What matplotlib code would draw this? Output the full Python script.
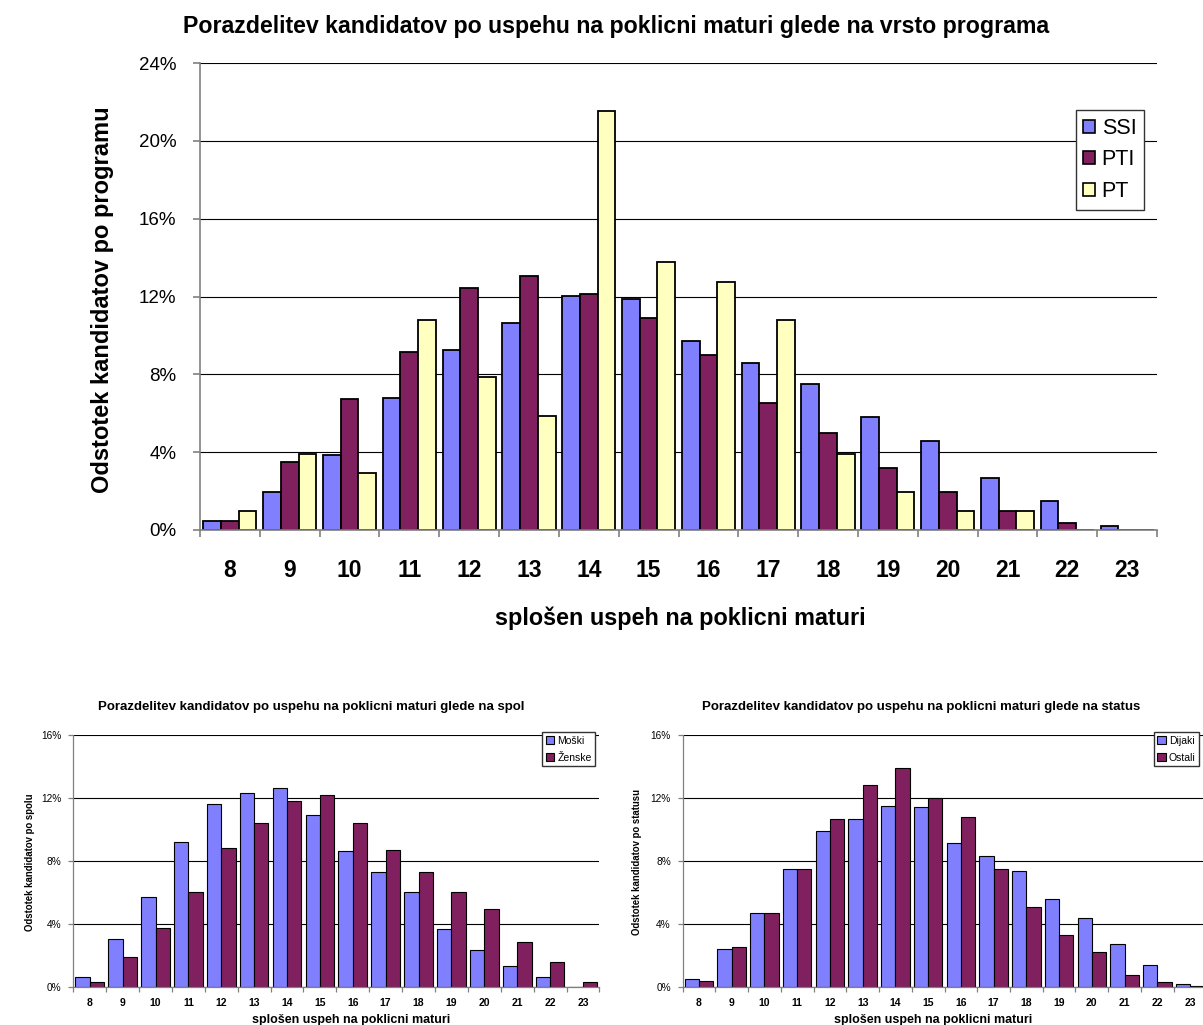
import numpy as np
import matplotlib
matplotlib.use("Agg")
import matplotlib.pyplot as plt
from matplotlib.ticker import FixedLocator, FuncFormatter

plt.rcParams['font.family'] = ['Liberation Sans', 'DejaVu Sans']

# --- data (percent) ---
grades = ['8', '9', '10', '11', '12', '13', '14', '15', '16', '17', '18', '19', '20', '21', '22', '23']

ssi = [0.48, 1.95, 3.83, 6.79, 9.25, 10.63, 12.03, 11.86, 9.73, 8.6, 7.52, 5.81, 4.58, 2.68, 1.47, 0.22]
pti = [0.48, 3.5, 6.72, 9.16, 12.45, 13.05, 12.12, 10.9, 8.99, 6.53, 4.99, 3.18, 1.95, 0.97, 0.38, 0.0]
pt = [0.97, 3.9, 2.94, 10.8, 7.85, 5.88, 21.55, 13.75, 12.77, 10.8, 3.93, 1.95, 0.97, 0.97, 0.0, 0.0]

moski = [0.63, 3.06, 5.74, 9.18, 11.62, 12.28, 12.6, 10.93, 8.65, 7.28, 6.05, 3.71, 2.38, 1.37, 0.63, 0.0]
zenske = [0.32, 1.9, 3.76, 6.01, 8.82, 10.4, 11.8, 12.15, 10.4, 8.71, 7.28, 6.05, 4.98, 2.87, 1.58, 0.32]

dijaki = [0.53, 2.41, 4.7, 7.47, 9.9, 10.69, 11.49, 11.43, 9.14, 8.3, 7.39, 5.61, 4.4, 2.73, 1.44, 0.21]
ostali = [0.38, 2.56, 4.7, 7.47, 10.69, 12.83, 13.9, 11.98, 10.8, 7.47, 5.08, 3.32, 2.24, 0.8, 0.32, 0.1]

BLUE = '#8080FF'
PURPLE = '#80205F'
YELLOW = '#FFFFC0'

W, H = 1203, 1025
fig = plt.figure(figsize=(W / 100, H / 100), dpi=100)


def px_axes(left, top, right, bottom):
    return fig.add_axes([left / W, 1 - bottom / H, (right - left) / W, (bottom - top) / H])


def pct(v, pos):
    return '%d%%' % round(v)


def style_axes(ax, ymax, ystep, tick_fs, xpad, ytick_fs, ypad, ticklen, lw):
    n = len(grades)
    ax.set_xlim(-0.5, n - 0.5)
    ax.set_ylim(0, ymax)
    ax.set_yticks(np.arange(0, ymax + 0.01, ystep))
    ax.yaxis.set_major_formatter(FuncFormatter(pct))
    ax.xaxis.set_major_locator(FixedLocator(np.arange(-0.5, n, 1.0)))
    ax.xaxis.set_minor_locator(FixedLocator(np.arange(n)))
    ax.set_xticklabels([], minor=False)
    ax.set_xticklabels(grades, minor=True, fontweight='bold', fontsize=tick_fs)
    ax.tick_params(axis='x', which='minor', length=0, pad=xpad)
    ax.tick_params(axis='x', which='major', length=ticklen, width=lw, color='#808080')
    ax.tick_params(axis='y', length=ticklen, width=lw, color='#808080',
                   labelsize=ytick_fs, pad=ypad)
    ax.grid(axis='y', color='black', lw=0.8)
    ax.set_axisbelow(True)
    for s in ['top', 'right']:
        ax.spines[s].set_visible(False)
    for s in ['left', 'bottom']:
        ax.spines[s].set_color('#808080')
        ax.spines[s].set_linewidth(lw)


# --- top chart ---
ax = px_axes(200, 63, 1157, 530)
x = np.arange(len(grades))
bw = 0.296
ax.bar(x - bw, ssi, bw, color=BLUE, edgecolor='black', lw=1.3, label='SSI')
ax.bar(x, pti, bw, color=PURPLE, edgecolor='black', lw=1.3, label='PTI')
ax.bar(x + bw, pt, bw, color=YELLOW, edgecolor='black', lw=1.3, label='PT')
style_axes(ax, 24, 4, 16.5, 21, 13.5, 12, 5, 1.2)
ax.text(-0.1015, 0.4925, 'Odstotek kandidatov po programu', transform=ax.transAxes,
        rotation=90, ha='center', va='center', fontsize=17, fontweight='bold')
ax.text(0.502, -0.188, 'splošen uspeh na poklicni maturi', transform=ax.transAxes,
        ha='center', va='center', fontsize=16.8, fontweight='bold')
fig.text(616 / W, 1 - 27 / H, 'Porazdelitev kandidatov po uspehu na poklicni maturi glede na vrsto programa',
         ha='center', va='center', fontsize=16.7, fontweight='bold')
leg = ax.legend(loc='upper right', bbox_to_anchor=(0.9864, 0.899), borderaxespad=0, fontsize=15.5,
                fancybox=False, edgecolor='#333333', framealpha=1, handlelength=0.55,
                handleheight=0.55, handletextpad=0.3, labelspacing=0.5, borderpad=0.35)
for h in leg.legend_handles:
    h.set_linewidth(1.2)

# --- bottom charts ---
bottom_sets = [
    ((73.3, 734.7, 599.4, 987.3), moski, zenske, 'Moški', 'Ženske',
     'Porazdelitev kandidatov po uspehu na poklicni maturi glede na spol', 0.453,
     'Odstotek kandidatov po spolu', -0.082, 0.529, (0.992, 1.01)),
    ((682.6, 734.7, 1206.4, 987.3), dijaki, ostali, 'Dijaki', 'Ostali',
     'Porazdelitev kandidatov po uspehu na poklicni maturi glede na status', 0.455,
     'Odstotek kandidatov po statusu', -0.087, 0.479, (0.986, 1.01)),
]

bw2 = 0.435
for rect, a, b, la, lb, title, tx, ylab, yx, xx, lanchor in bottom_sets:
    ax2 = px_axes(*rect)
    ax2.bar(x - bw2 / 2, a, bw2, color=BLUE, edgecolor='black', lw=0.8, label=la)
    ax2.bar(x + bw2 / 2, b, bw2, color=PURPLE, edgecolor='black', lw=0.8, label=lb)
    style_axes(ax2, 16, 4, 7.5, 7.5, 7.3, 5, 3.5, 0.9)
    ax2.text(tx, 1.11, title, transform=ax2.transAxes, ha='center', va='center',
             fontsize=9.5, fontweight='bold')
    ax2.text(yx, 0.496, ylab, transform=ax2.transAxes, rotation=90, ha='center',
             va='center', fontsize=6.9, fontweight='bold')
    ax2.text(xx, -0.13, 'splošen uspeh na poklicni maturi', transform=ax2.transAxes,
             ha='center', va='center', fontsize=9, fontweight='bold')
    ax2.legend(loc='upper right', bbox_to_anchor=lanchor, borderaxespad=0, fontsize=7.5,
               fancybox=False, edgecolor='#333333', framealpha=1, handlelength=0.8,
               handleheight=0.8, handletextpad=0.3, labelspacing=0.65, borderpad=0.35)

fig.savefig('out.png', dpi=100)
